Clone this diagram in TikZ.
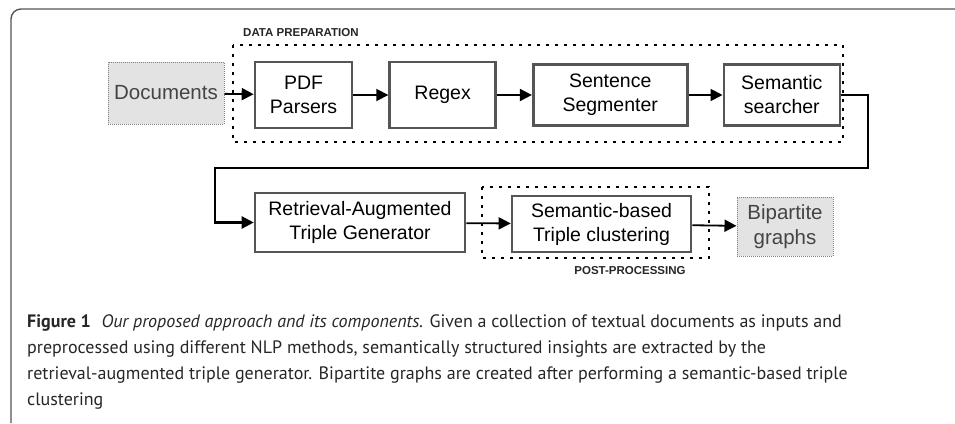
\documentclass[tikz,border=0pt]{standalone}
\usepackage{fontspec}
\setmainfont{Liberation Sans}
\newfontfamily\capfont{PT Sans}
\usetikzlibrary{arrows.meta}
\usetikzlibrary{positioning}

\definecolor{boxgray}{HTML}{555555}
\definecolor{datafill}{HTML}{E3E3E3}
\definecolor{datatext}{HTML}{444444}

\tikzset{
    procbox/.style = {draw=boxgray, line width=2.6pt, fill=white, align=center,
        inner sep=0pt, font=\fontsize{19.5}{24}\selectfont},
    databox/.style = {draw=gray, line width=1pt, dash pattern=on 1pt off 1pt,
        fill=datafill, align=center, inner sep=0pt, text=datatext,
        font=\fontsize{20.5}{25}\selectfont},
    grouprect/.style = {draw=black, line width=2.6pt, dash pattern=on 2.6pt off 6.4pt},
    grouplabel/.style = {font=\bfseries\fontsize{11.5}{13}\selectfont, text=black!85, inner sep=0pt},
    flow/.style = {line width=1.8pt, -{Triangle[length=12pt,width=12pt]}},
}

\begin{document}
\begin{tikzpicture}[x=1pt, y=-1pt]
    \useasboundingbox (0,0) rectangle (955,423);

    % outer frame of the figure
    \draw[boxgray, line width=1.4pt] (955,9) -- (21,9) arc[start angle=270, end angle=180, radius=10] -- (11,423);

    % groups
    \draw[grouprect] (233,45) rectangle (843,142);
    \draw[grouprect] (482,187) rectangle (709,258);
    \node[grouplabel, anchor=west] (prepLabel) at (243,33) {DATA PREPARATION};
    \node[grouplabel] (postLabel) at (630,271) {POST-PROCESSING};

    % inputs and outputs
    \node[databox, minimum width=116pt, minimum height=62pt] (docs) at (166,93) {Documents};
    \node[databox, minimum width=96pt, minimum height=59pt] (bipart) at (785,226.5) {Bipartite\\graphs};

    % pipeline
    \node[procbox, minimum width=97pt, minimum height=66pt] (pdf) at (303.5,95) {PDF\\Parsers};
    \node[procbox, minimum width=106pt, minimum height=66pt, right=35pt of pdf] (regex) {Regex};
    \node[procbox, minimum width=154pt, minimum height=61pt, right=35pt of regex] (sentseg) {Sentence\\Segmenter};
    \node[procbox, minimum width=116pt, minimum height=61pt, right=34pt of sentseg] (semsearch) {Semantic\\searcher};
    \node[procbox, minimum width=210pt, minimum height=59pt] (rag) at (360,222.5) {Retrieval-Augmented\\Triple Generator};
    \node[procbox, minimum width=179pt, minimum height=56pt] (semclust) at (601.5,224) {Semantic-based\\Triple clustering};

    \coordinate (turnR) at (868,168);
    \coordinate (turnL) at (215,168);

    \draw[flow] (docs) -- (pdf);
    \draw[flow] (pdf) -- (regex);
    \draw[flow] (regex) -- (sentseg);
    \draw[flow] (sentseg) -- (semsearch);
    \draw[flow, line width=2.4pt] (semsearch.east) -| (turnR) -- (turnL) |- (rag.west);
    \draw[flow] (rag) -- (semclust);
    \draw[flow] (semclust) -- (bipart);

    % caption
    \node[anchor=north west, align=left, inner sep=0pt, text=black!85,
          font=\capfont\fontsize{18}{26}\selectfont] (caption) at (27,314)
        {\textbf{Figure 1}\hspace{0.6em}\textit{Our proposed approach and its components.} Given a collection of textual documents as inputs and\\
         preprocessed using different NLP methods, semantically structured insights are extracted by the\\
         retrieval-augmented triple generator. Bipartite graphs are created after performing a semantic-based triple\\
         clustering};
\end{tikzpicture}
\end{document}
